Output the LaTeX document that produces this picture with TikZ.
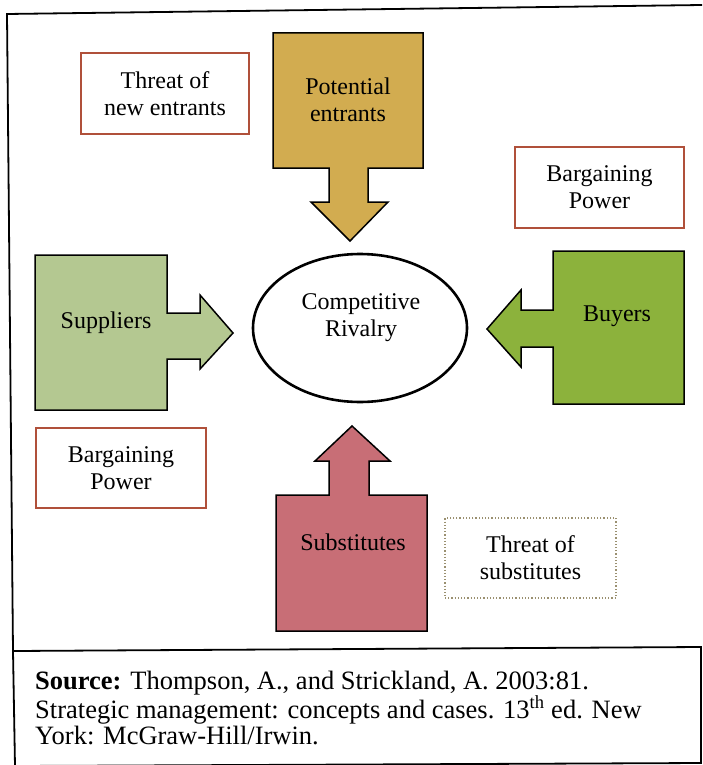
\documentclass[tikz,border=0pt]{standalone}
\usepackage{fontspec}
\setmainfont{Liberation Serif}
\usetikzlibrary{shapes.geometric}

\definecolor{labelred}{HTML}{B0503A}
\definecolor{dotolive}{HTML}{9A9070}
\definecolor{entrantgold}{HTML}{D2AC50}
\definecolor{supplygreen}{HTML}{B4C891}
\definecolor{buyergreen}{HTML}{8CB23C}
\definecolor{subsred}{HTML}{C86E76}

\begin{document}
\begin{tikzpicture}[x=1pt,y=-1pt,
  frameline/.style={draw=black, line width=1.8pt},
  forceshape/.style={draw=black, line width=1.5pt, line join=miter},
  forcetext/.style={font=\fontsize{24}{27}\selectfont, align=center, inner sep=0pt},
  labelbox/.style={draw=labelred, line width=1.5pt, align=center, inner sep=0pt,
    font=\fontsize{24}{27}\selectfont},
  dottedbox/.style={draw=dotolive, line width=1.2pt, dotted, align=center, inner sep=0pt,
    font=\fontsize{24}{27}\selectfont},
  sourcetext/.style={font=\fontsize{26.5}{26}\selectfont, align=left, inner sep=0pt}]

\useasboundingbox (0,0) rectangle (702,765);
\fill[white] (0,0) rectangle (702,765);

% outer frame (slightly tilted)
\coordinate (ftl) at (7,14);
\coordinate (ftr) at (702,5);
\coordinate (fml) at (13,651);
\coordinate (fmr) at (701,647);
\coordinate (fbl) at (15,766);
\coordinate (fbr) at (701,763);
\draw[frameline] (ftr) -- (ftl) -- (fml) -- (fbl);
\draw[frameline] (fml) -- (fmr) -- (fbr) -- (fbl);

% potential entrants: box with downward arrow
\draw[forceshape, fill=entrantgold]
  (273,33) -- (423,33) -- (423,168) -- (368,168) -- (368,202) -- (388,202)
  -- (350,241) -- (311,202) -- (329,202) -- (329,168) -- (273,168) -- cycle;
\node[forcetext] (entrants) at (348,100) {Potential\\entrants};

% suppliers: box with right arrow
\draw[forceshape, fill=supplygreen]
  (35,255) -- (167,255) -- (167,313) -- (200,313) -- (200,295) -- (233,333)
  -- (200,369) -- (200,359) -- (167,359) -- (167,410) -- (35,410) -- cycle;
\node[forcetext] (suppliers) at (106,323) {Suppliers};

% buyers: box with left arrow
\draw[forceshape, fill=buyergreen]
  (684,251) -- (553,251) -- (553,310) -- (521,310) -- (521,290) -- (487,329)
  -- (521,367) -- (521,347) -- (553,347) -- (553,404) -- (684,404) -- cycle;
\node[forcetext] (buyers) at (617,316) {Buyers};

% substitutes: box with upward arrow
\draw[forceshape, fill=subsred]
  (276,631) -- (427,631) -- (427,495) -- (369,495) -- (369,461) -- (390,461)
  -- (352,426) -- (315,461) -- (329,461) -- (329,495) -- (276,495) -- cycle;
\node[forcetext] (substitutes) at (353,542) {Substitutes};

% centre
\node[ellipse, draw=black, line width=2.6pt, minimum width=214pt, minimum height=148pt,
  inner sep=0pt] (rivalry) at (360,328) {};
\node[forcetext] (rivalrytext) at (361,318) {Competitive\\Rivalry};

% force labels
\node[labelbox, minimum width=168pt, minimum height=81pt] (newentrants) at (165,93.5)
  {Threat of\\new entrants};
\node[labelbox, minimum width=169pt, minimum height=81pt] (buyerpower) at (599.5,187.5)
  {Bargaining\\Power};
\node[labelbox, minimum width=170pt, minimum height=80pt] (supplierpower) at (121,468)
  {Bargaining\\Power};
\node[dottedbox, minimum width=171pt, minimum height=80pt] (substthreat) at (530.5,558)
  {Threat of\\substitutes};

% source note (anchored on the baseline of its last line)
\node[sourcetext, anchor=base west] (source) at (35,744)
  {\textbf{Source:} Thompson, A., and Strickland, A. 2003:81.\\
   Strategic management: concepts and cases. 13\textsuperscript{th} ed. New\\
   York: McGraw-Hill/Irwin.};

\end{tikzpicture}
\end{document}
